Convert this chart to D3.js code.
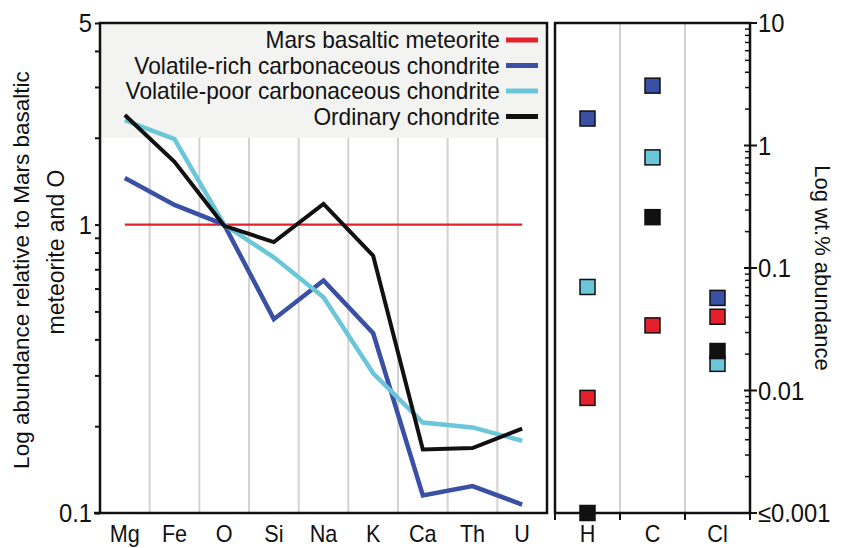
<!DOCTYPE html>
<html lang="en">
<head>
    <title>Mars basaltic meteorite vs chondrites</title>
    <script src="https://d3js.org/d3.v7.min.js"></script>
    <style>
        body{
            margin: 0;
            background-color: #fff;
        }
        text{
            font-family: "Liberation Sans", Arial, sans-serif;
            fill: #111;
        }
        .grid{
            stroke: #d2d2d2;
            stroke-width: 2;
        }
        .frame{
            fill: none;
            stroke: #111;
            stroke-width: 2.5;
        }
    </style>
</head>
<body>
    <div id="my_dataviz"></div>
    <script>

    // data
    var elements = ["Mg", "Fe", "O", "Si", "Na", "K", "Ca", "Th", "U"]
    var marsBasaltic    = [1, 1, 1, 1, 1, 1, 1, 1, 1]
    var volatileRich    = [1.45, 1.17, 1.0, 0.47, 0.64, 0.42, 0.115, 0.124, 0.107]
    var volatilePoor    = [2.30, 1.98, 1.0, 0.77, 0.56, 0.305, 0.206, 0.198, 0.178]
    var ordinary        = [2.40, 1.65, 0.99, 0.87, 1.18, 0.78, 0.166, 0.168, 0.196]

    var volatiles = ["H", "C", "Cl"]
    var marsVol   = [0.0087, 0.034, 0.040]
    var richVol   = [1.66, 3.08, 0.057]
    var poorVol   = [0.070, 0.80, 0.0165]
    var ordVol    = [0.001, 0.26, 0.021]

    var leftTicks  = ["0.1", "1", "5"]
    var rightTicks = ["≤0.001", "0.01", "0.1", "1", "10"]

    var series = [
        {name: "Mars basaltic meteorite", values: marsBasaltic, vol: marsVol, color: "#e3202b", width: 2.2},
        {name: "Volatile-rich carbonaceous chondrite", values: volatileRich, vol: richVol, color: "#3a50a4", width: 4.5},
        {name: "Volatile-poor carbonaceous chondrite", values: volatilePoor, vol: poorVol, color: "#6cc6da", width: 4.5},
        {name: "Ordinary chondrite", values: ordinary, vol: ordVol, color: "#111111", width: 4}
    ]

    var width = 841
    var height = 548

    var mTop = 23, mBottom = 513
    var left1 = 100, right1 = 547
    var left2 = 555, right2 = 750

    // the original uses a condensed face, so squeeze the text a bit
    function squeeze(sel, f){
        sel.each(function(){
            var w = this.getComputedTextLength()
            d3.select(this)
                .attr("textLength", w * f)
                .attr("lengthAdjust", "spacingAndGlyphs")
        })
    }

    var svg = d3.select("#my_dataviz")
      .append("svg")
        .attr("width", width)
        .attr("height", height)

    // scales
    var x = d3.scaleBand().domain(elements).range([left1, right1])
    var y = d3.scaleLog().domain([0.1, 5]).range([mBottom, mTop])
    var x2 = d3.scaleBand().domain(volatiles).range([left2, right2])
    var y2 = d3.scaleLog().domain([0.001, 10]).range([mBottom, mTop])

    // legend background
    svg.append("rect")
        .attr("x", left1)
        .attr("y", mTop)
        .attr("width", right1 - left1)
        .attr("height", 115)
        .attr("fill", "#f3f3f1")

    // vertical gridlines
    svg.append("g")
        .selectAll("line")
        .data(elements.slice(1))
        .enter()
        .append("line")
        .attr("class", "grid")
        .attr("x1", d => x(d))
        .attr("x2", d => x(d))
        .attr("y1", mTop + 115)
        .attr("y2", mBottom)

    svg.append("g")
        .selectAll("line")
        .data(volatiles.slice(1))
        .enter()
        .append("line")
        .attr("class", "grid")
        .attr("x1", d => x2(d))
        .attr("x2", d => x2(d))
        .attr("y1", mTop)
        .attr("y2", mBottom)

    // lines
    var line = d3.line()
        .x((d, i) => x(elements[i]) + x.bandwidth() / 2)
        .y(d => y(d))

    svg.append("g")
        .selectAll("path")
        .data(series)
        .enter()
        .append("path")
        .attr("d", d => line(d.values))
        .attr("fill", "none")
        .attr("stroke", d => d.color)
        .attr("stroke-width", d => d.width)
        .attr("stroke-linejoin", "miter")

    // legend
    var legend = svg.append("g")
        .selectAll("g")
        .data(series)
        .enter()
        .append("g")
        .attr("transform", (d, i) => "translate(0," + (48 + i * 25.5) + ")")

    legend.append("text")
        .attr("x", 500)
        .attr("text-anchor", "end")
        .style("font-size", "24px")
        .text(d => d.name)
        .call(squeeze, 0.945)

    legend.append("line")
        .attr("x1", 506)
        .attr("x2", 538)
        .attr("y1", -8)
        .attr("y2", -8)
        .attr("stroke", d => d.color)
        .attr("stroke-width", 5)

    // squares for the volatiles
    var sq = 15
    series.forEach(function(s){
        svg.append("g")
            .selectAll("rect")
            .data(s.vol)
            .enter()
            .append("rect")
            .attr("x", (d, i) => x2(volatiles[i]) + x2.bandwidth() / 2 - sq / 2)
            .attr("y", d => y2(d) - sq / 2)
            .attr("width", sq)
            .attr("height", sq)
            .attr("fill", s.color)
            .attr("stroke", "#111")
            .attr("stroke-width", 1.5)
    })

    // left axis
    var leftAxis = d3.axisLeft(y)
        .tickValues([0.1,0.2,0.3,0.4,0.5,0.6,0.7,0.8,0.9,1,2,3,4,5])
        .tickSize(5)
        .tickFormat("")
    var gl = svg.append("g")
        .attr("transform", "translate(" + left1 + ",0)")
        .call(leftAxis)
    gl.select(".domain").remove()
    gl.selectAll("line").attr("stroke", "#111").attr("stroke-width", 2)

    svg.append("g")
        .selectAll("text")
        .data(leftTicks)
        .enter()
        .append("text")
        .attr("x", 92)
        .attr("y", d => y(+d) + 9)
        .attr("text-anchor", "end")
        .style("font-size", "25px")
        .text(d => d)
        .call(squeeze, 0.95)

    // right axis
    var minor = []
    for (var e = -3; e < 1; e++) {
        for (var m = 2; m < 10; m++) minor.push(m * Math.pow(10, e))
    }
    var rightAxisMinor = d3.axisLeft(y2)
        .tickValues(minor)
        .tickSize(5)
        .tickFormat("")
    var gr = svg.append("g")
        .attr("transform", "translate(" + right2 + ",0)")
        .call(rightAxisMinor)
    gr.select(".domain").remove()
    gr.selectAll("line").attr("stroke", "#111").attr("stroke-width", 1.5)

    var majors = [0.001, 0.01, 0.1, 1, 10]
    svg.append("g")
        .selectAll("line")
        .data(majors)
        .enter()
        .append("line")
        .attr("x1", right2 - 6)
        .attr("x2", right2 + 7)
        .attr("y1", d => y2(d))
        .attr("y2", d => y2(d))
        .attr("stroke", "#111")
        .attr("stroke-width", 2)

    svg.append("g")
        .selectAll("text")
        .data(rightTicks)
        .enter()
        .append("text")
        .attr("x", 758)
        .attr("y", (d, i) => y2(majors[i]) + 9)
        .style("font-size", "25px")
        .text(d => d)
        .call(squeeze, 0.95)

    // bottom ticks of the right panel
    svg.append("g")
        .selectAll("line")
        .data([left2, x2("C"), x2("Cl"), right2])
        .enter()
        .append("line")
        .attr("x1", d => d)
        .attr("x2", d => d)
        .attr("y1", mBottom)
        .attr("y2", mBottom + 7)
        .attr("stroke", "#111")
        .attr("stroke-width", 2)

    // frames
    svg.append("rect")
        .attr("class", "frame")
        .attr("x", left1)
        .attr("y", mTop)
        .attr("width", right1 - left1)
        .attr("height", mBottom - mTop)

    svg.append("rect")
        .attr("class", "frame")
        .attr("x", left2)
        .attr("y", mTop)
        .attr("width", right2 - left2)
        .attr("height", mBottom - mTop)

    svg.append("line")
        .attr("x1", 94)
        .attr("x2", left1)
        .attr("y1", mBottom)
        .attr("y2", mBottom)
        .attr("stroke", "#111")
        .attr("stroke-width", 2.5)

    // category labels
    svg.append("g")
        .selectAll("text")
        .data(elements)
        .enter()
        .append("text")
        .attr("x", d => x(d) + x.bandwidth() / 2)
        .attr("y", 542)
        .attr("text-anchor", "middle")
        .style("font-size", "24px")
        .text(d => d)
        .call(squeeze, 0.9)

    svg.append("g")
        .selectAll("text")
        .data(volatiles)
        .enter()
        .append("text")
        .attr("x", d => x2(d) + x2.bandwidth() / 2)
        .attr("y", 542)
        .attr("text-anchor", "middle")
        .style("font-size", "24px")
        .text(d => d)
        .call(squeeze, 0.9)

    // axis titles
    svg.append("text")
        .attr("transform", "translate(29,270) rotate(-90)")
        .attr("text-anchor", "middle")
        .style("font-size", "22.5px")
        .text("Log abundance relative to Mars basaltic")

    svg.append("text")
        .attr("transform", "translate(64,252) rotate(-90)")
        .attr("text-anchor", "middle")
        .style("font-size", "23px")
        .text("meteorite and O")

    svg.append("text")
        .attr("transform", "translate(815,268) rotate(90)")
        .attr("text-anchor", "middle")
        .style("font-size", "22px")
        .text("Log wt.% abundance")

    </script>
</body>
</html>
